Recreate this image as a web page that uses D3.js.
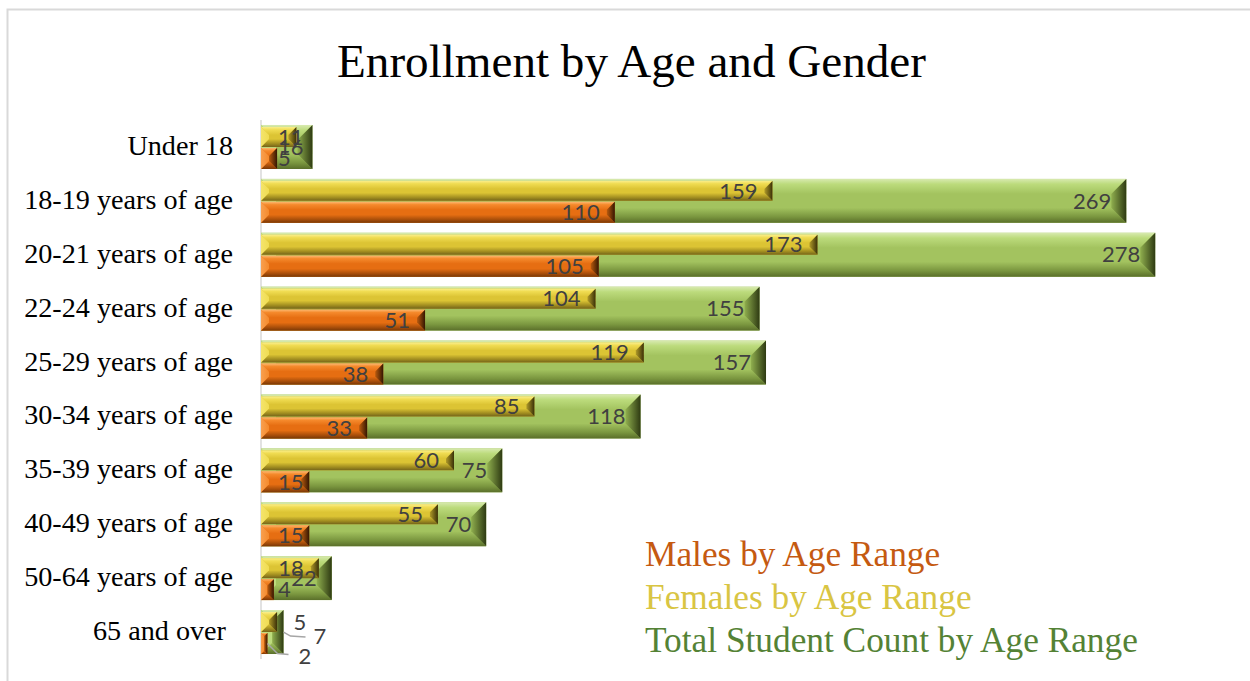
<!DOCTYPE html>
<html>
<head>
<meta charset="utf-8">
<script src="https://cdn.jsdelivr.net/npm/d3@7"></script>
<style>
  html, body { margin: 0; padding: 0; background: #fff; }
  svg { display: block; }
</style>
</head>
<body>
<svg id="chart" width="1250" height="681"></svg>
<script>
// ---------------- data ----------------
const categories = ["Under 18", "18-19 years of age", "20-21 years of age", "22-24 years of age",
  "25-29 years of age", "30-34 years of age", "35-39 years of age", "40-49 years of age",
  "50-64 years of age", "65 and over "];
const males   = [5, 110, 105, 51, 38, 33, 15, 15, 4, 2];
const females = [11, 159, 173, 104, 119, 85, 60, 55, 18, 5];
const totals  = [16, 269, 278, 155, 157, 118, 75, 70, 22, 7];
const seriesNames = ["Males by Age Range", "Females by Age Range", "Total Student Count by Age Range"];
const titleText = "Enrollment by Age and Gender";

// ---------------- setup ----------------
const svg = d3.select("#chart");
const serif = "'Palatino Linotype', Palatino, 'Book Antiqua', 'Liberation Serif', 'DejaVu Serif', serif";
const sans = "Lato, Calibri, 'Open Sans', sans-serif";

// frame
svg.append("rect").attr("x", 7.5).attr("y", 9.5).attr("width", 1300).attr("height", 700)
  .attr("fill", "none").attr("stroke", "#d9d9d9").attr("stroke-width", 2);

const x = d3.scaleLinear().domain([0, 300]).range([261, 1226]);
const y = d3.scaleBand().domain(categories).range([120, 659]).paddingInner(0.185).paddingOuter(0.0925);

// palettes
const pal = {
  total:  {hi: "#d8eab0", top: "#bcdb7c", face: "#a3c35f", bot: "#7a963f", botEdge: "#5a6f2a", left: "#c0dc86", rIn: "#8fae4e", rOut: "#2e3a12"},
  female: {hi: "#faee8c", top: "#f0dc52", face: "#dcc434", bot: "#a08c20", botEdge: "#74641a", left: "#f4e46c", rIn: "#b09a28", rOut: "#3a3008"},
  male:   {hi: "#fcb870", top: "#f58a2c", face: "#e66e12", bot: "#a84e0a", botEdge: "#7a3806", left: "#f8a050", rIn: "#b85a0e", rOut: "#341602"}
};

const defs = svg.append("defs");
Object.entries(pal).forEach(([k, p]) => {
  const gt = defs.append("linearGradient").attr("id", "top-" + k).attr("x1", 0).attr("y1", 0).attr("x2", 0).attr("y2", 1);
  gt.append("stop").attr("offset", 0).attr("stop-color", p.hi);
  gt.append("stop").attr("offset", 0.35).attr("stop-color", p.top);
  gt.append("stop").attr("offset", 1).attr("stop-color", p.face);
  const gb = defs.append("linearGradient").attr("id", "bot-" + k).attr("x1", 0).attr("y1", 0).attr("x2", 0).attr("y2", 1);
  gb.append("stop").attr("offset", 0).attr("stop-color", p.face);
  gb.append("stop").attr("offset", 0.6).attr("stop-color", p.bot);
  gb.append("stop").attr("offset", 1).attr("stop-color", p.botEdge);
  const gr = defs.append("linearGradient").attr("id", "right-" + k).attr("x1", 0).attr("y1", 0).attr("x2", 1).attr("y2", 0);
  gr.append("stop").attr("offset", 0).attr("stop-color", p.rIn);
  gr.append("stop").attr("offset", 1).attr("stop-color", p.rOut);
  const gl = defs.append("linearGradient").attr("id", "left-" + k).attr("x1", 0).attr("y1", 0).attr("x2", 1).attr("y2", 0);
  gl.append("stop").attr("offset", 0).attr("stop-color", p.left);
  gl.append("stop").attr("offset", 1).attr("stop-color", p.top);
});

function bevelBar(g, key, x0, x1, yt, h, bMax) {
  const p = pal[key];
  const w = x1 - x0;
  const b = Math.min(bMax, w / 2, h / 2);
  const yb = yt + h;
  const pts = a => a.map(d => d.join(",")).join(" ");
  g.append("rect").attr("x", x0).attr("y", yt).attr("width", w).attr("height", h).attr("fill", p.face);
  g.append("polygon").attr("points", pts([[x0, yt], [x1, yt], [x1 - b, yt + b], [x0 + b, yt + b]])).attr("fill", `url(#top-${key})`);
  g.append("polygon").attr("points", pts([[x0, yb], [x1, yb], [x1 - b, yb - b], [x0 + b, yb - b]])).attr("fill", `url(#bot-${key})`);
  g.append("polygon").attr("points", pts([[x0, yt], [x0 + b, yt + b], [x0 + b, yb - b], [x0, yb]])).attr("fill", `url(#left-${key})`);
  g.append("polygon").attr("points", pts([[x1, yt], [x1 - b, yt + b], [x1 - b, yb - b], [x1, yb]])).attr("fill", `url(#right-${key})`);
}

// axis line
svg.append("line").attr("x1", x(0)).attr("x2", x(0)).attr("y1", 120).attr("y2", 659)
  .attr("stroke", "#d9d9d9").attr("stroke-width", 1.5);

const barsG = svg.append("g");
const leaderG = svg.append("g");
const labelsG = svg.append("g").attr("font-family", sans).attr("font-size", 22).attr("fill", "#404040");

categories.forEach((c, i) => {
  const y0 = y(c), h = y.bandwidth();
  bevelBar(barsG, "total", x(0), x(totals[i]), y0, h, 15);
  bevelBar(barsG, "female", x(0), x(females[i]), y0 + 2, h / 2 - 2, 8);
  bevelBar(barsG, "male", x(0), x(males[i]), y0 + h / 2 + 1, h / 2 - 1, 8);
});

// value labels
function placeInside(val, end, cy) {
  const t = labelsG.append("text").text(val).attr("y", cy).attr("dy", "0.35em").attr("text-anchor", "end");
  const tw = t.node().getComputedTextLength();
  t.attr("x", Math.max(end - 15, x(0) + 17 + tw));
}
categories.forEach((c, i) => {
  const y0 = y(c), h = y.bandwidth();
  const fCy = y0 + 2 + (h / 2 - 2) / 2, mCy = y0 + h / 2 + 1 + (h / 2 - 1) / 2, tCy = y0 + h / 2;
  if (x(totals[i]) - x(0) < 30) {
    // outside labels with leader lines
    const te = x(totals[i]), me = x(males[i]);
    labelsG.append("text").text(females[i]).attr("x", te + 10).attr("y", fCy).attr("dy", "0.35em");
    labelsG.append("text").text(totals[i]).attr("x", te + 30).attr("y", tCy + 4).attr("dy", "0.35em");
    labelsG.append("text").text(males[i]).attr("x", te + 15).attr("y", mCy + 13).attr("dy", "0.35em");
    const ln = d3.line();
    leaderG.append("path").attr("d", ln([[te, tCy], [te + 7, tCy + 4], [te + 22, tCy + 5]]))
      .attr("fill", "none").attr("stroke", "#a6a6a6").attr("stroke-width", 1.5);
    leaderG.append("path").attr("d", ln([[me, mCy], [me + 10, mCy + 10], [te + 5, mCy + 11]]))
      .attr("fill", "none").attr("stroke", "#a6a6a6").attr("stroke-width", 1.5);
  } else {
    placeInside(totals[i], x(totals[i]), tCy);
    placeInside(females[i], x(females[i]), fCy);
    placeInside(males[i], x(males[i]), mCy);
  }
});

// fit helper
function fitSize(sel, target) {
  const w = sel.node().getComputedTextLength();
  const fs = parseFloat(sel.attr("font-size"));
  return fs * target / w;
}

// title
const title = svg.append("text").text(titleText).attr("x", 631.5).attr("y", 77)
  .attr("text-anchor", "middle").attr("font-family", serif).attr("font-size", 40).attr("fill", "#000");
title.attr("font-size", fitSize(title, 589));

// category labels
const catG = svg.append("g").attr("font-family", serif).attr("fill", "#000");
const probe = catG.append("text").text(categories[1]).attr("font-size", 22);
const catFs = fitSize(probe, 209);
probe.remove();
catG.selectAll("text").data(categories).join("text")
  .attr("x", 233).attr("y", d => y(d) + y.bandwidth() / 2 + 8)
  .attr("text-anchor", "end").attr("font-size", catFs)
  .style("white-space", "pre").text(d => d);

// legend
const legColors = ["#c55a11", "#d9c543", "#548235"];
const legG = svg.append("g").attr("font-family", serif);
const lp = legG.append("text").text(seriesNames[2]).attr("font-size", 28);
const legFs = fitSize(lp, 493);
lp.remove();
legG.selectAll("text").data(seriesNames).join("text")
  .attr("x", 645).attr("y", (d, i) => 566 + i * 43)
  .attr("font-size", legFs).attr("fill", (d, i) => legColors[i]).text(d => d);
</script>
</body>
</html>
